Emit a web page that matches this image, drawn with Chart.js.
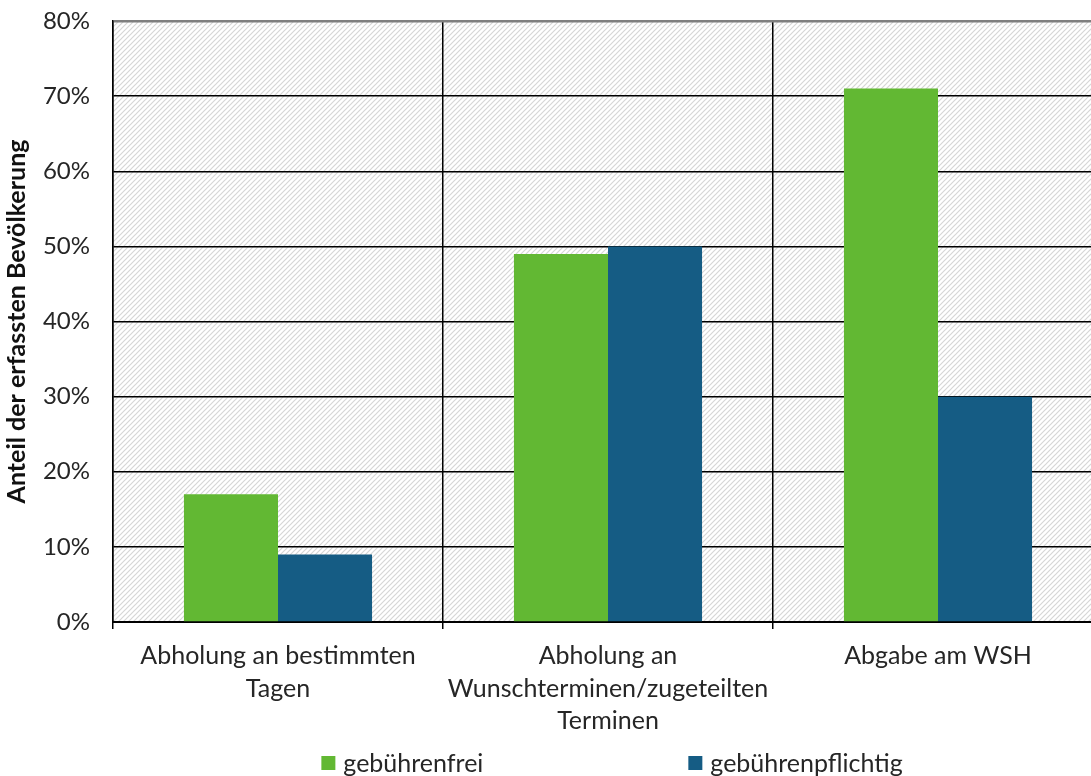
<!DOCTYPE html>
<html>
<head>
<meta charset="utf-8">
<script src="https://cdn.jsdelivr.net/npm/chart.js@4/dist/chart.umd.min.js"></script>
<style>
  html, body { margin: 0; padding: 0; background: #fff; overflow: hidden; }
  #wrap { width: 1112px; height: 786px; }
</style>
</head>
<body>
<div id="wrap"><canvas id="c" width="1112" height="786"></canvas></div>
<script>
// Sammelsysteme und Anteil der erfassten Bevölkerung
const categories = [
  ['Abholung an bestimmten', 'Tagen'],
  ['Abholung an', 'Wunschterminen/zugeteilten', 'Terminen'],
  ['Abgabe am WSH']
];
const seriesNames = ['gebührenfrei', 'gebührenpflichtig'];
const gebuehrenfrei = [17, 49, 71];
const gebuehrenpflichtig = [9, 50, 30];
const yTicks = [0, 10, 20, 30, 40, 50, 60, 70, 80];

const GREEN = '#62b833';
const BLUE = '#155c84';
const FONT = 'Lato, "Open Sans", sans-serif';
const TEXT = '#262626';

// diagonal hatch tile for the plot background
function hatchPattern(ctx) {
  const t = document.createElement('canvas');
  t.width = 5; t.height = 5;
  const g = t.getContext('2d');
  g.fillStyle = '#ffffff';
  g.fillRect(0, 0, 5, 5);
  g.strokeStyle = '#d6d6d6';
  g.lineWidth = 1.2;
  g.beginPath();
  g.moveTo(-1, 6); g.lineTo(6, -1);
  g.moveTo(-3, 3); g.lineTo(3, -3);
  g.moveTo(2, 8); g.lineTo(8, 2);
  g.stroke();
  return ctx.createPattern(t, 'repeat');
}

const plotBackground = {
  id: 'plotBackground',
  beforeDraw(chart) {
    const { ctx, chartArea: a } = chart;
    ctx.save();
    ctx.fillStyle = hatchPattern(ctx);
    ctx.fillRect(a.left, a.top, a.right - a.left, a.bottom - a.top);
    ctx.restore();
  }
};

// legend row below the axis labels
const bottomLegend = {
  id: 'bottomLegend',
  afterDraw(chart) {
    const { ctx, chartArea: a } = chart;
    const font = '25px ' + FONT;
    const box = 14, boxGap = 8, itemGap = 205;
    ctx.save();
    ctx.font = font;
    const items = chart.data.datasets.map(ds => ({
      label: ds.label, color: ds.backgroundColor,
      w: box + boxGap + ctx.measureText(ds.label).width
    }));
    const total = items.reduce((s, it) => s + it.w, 0) + itemGap * (items.length - 1);
    let x = (a.left + a.right) / 2 - total / 2 + 4;
    const yMid = 763;
    items.forEach(it => {
      ctx.fillStyle = it.color;
      ctx.fillRect(x, yMid - box / 2, box, box);
      ctx.fillStyle = TEXT;
      ctx.textBaseline = 'middle';
      ctx.textAlign = 'left';
      ctx.fillText(it.label, x + box + boxGap, yMid + 1);
      x += it.w + itemGap;
    });
    ctx.restore();
  }
};

new Chart(document.getElementById('c'), {
  type: 'bar',
  data: {
    labels: categories,
    datasets: [
      { label: seriesNames[0], data: gebuehrenfrei, backgroundColor: GREEN },
      { label: seriesNames[1], data: gebuehrenpflichtig, backgroundColor: BLUE }
    ]
  },
  options: {
    responsive: false,
    animation: false,
    devicePixelRatio: 1,
    layout: { padding: { top: 21, right: 9, bottom: 44, left: 0 } },
    datasets: { bar: { categoryPercentage: 0.57, barPercentage: 1.0, borderWidth: 0 } },
    plugins: { legend: { display: false }, tooltip: { enabled: false } },
    scales: {
      x: {
        grid: { color: '#000', lineWidth: 1.5, tickLength: 7, offset: true, drawOnChartArea: true },
        border: { color: '#000', width: 2 },
        ticks: { color: TEXT, font: { family: FONT, size: 25, lineHeight: 1.3 }, padding: 11, maxRotation: 0, autoSkip: false },
        afterFit(scale) { scale.height = 120; scale.paddingLeft = 0; scale.paddingRight = 0; }
      },
      y: {
        min: 0, max: 80,
        afterBuildTicks(scale) { scale.ticks = yTicks.map(v => ({ value: v })); },
        grid: {
          color: ctx => ctx.tick && ctx.tick.value === 80 ? '#7f7f7f' : '#000',
          lineWidth: ctx => ctx.tick && ctx.tick.value === 80 ? 2.5 : 1.5,
          drawTicks: false
        },
        border: { color: '#000', width: 1.5 },
        ticks: { color: TEXT, font: { family: FONT, size: 24 }, padding: 23, callback: v => v + '%' },
        title: {
          display: true, text: 'Anteil der erfassten Bevölkerung',
          color: '#111', font: { family: FONT, size: 25, weight: 'bold' }, padding: { top: 2, bottom: 0 }
        },
        afterFit(scale) { scale.width = 113; scale.paddingTop = 0; scale.paddingBottom = 0; }
      }
    }
  },
  plugins: [plotBackground, bottomLegend]
});
</script>
</body>
</html>
